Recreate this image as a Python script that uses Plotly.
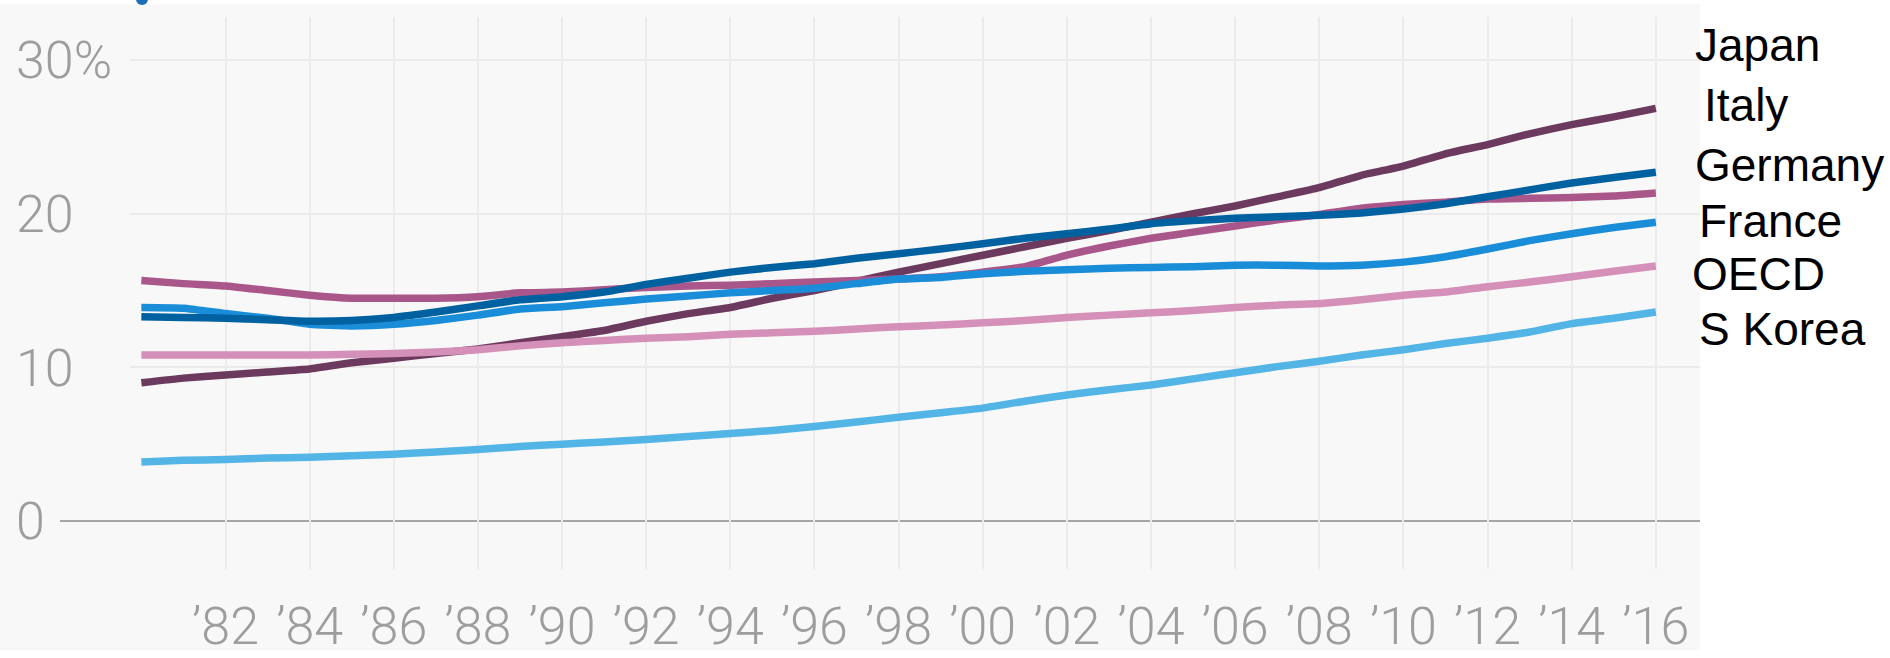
import plotly.graph_objects as go

years = list(range(1980, 2017))

japan = [9.0, 9.3, 9.5, 9.7, 9.9, 10.3, 10.6, 10.9, 11.2, 11.6, 12.0, 12.4, 13.0, 13.5, 13.9, 14.5,
         15.0, 15.6, 16.2, 16.75, 17.3, 17.85, 18.4, 18.9, 19.45, 20.0, 20.5, 21.1, 21.7, 22.5,
         23.1, 23.9, 24.5, 25.2, 25.8, 26.3, 26.85]
italy = [13.3, 13.25, 13.2, 13.1, 13.0, 13.05, 13.25, 13.6, 14.0, 14.4, 14.6, 14.9, 15.4, 15.8, 16.2, 16.5,
         16.75, 17.1, 17.4, 17.7, 18.05, 18.4, 18.7, 19.0, 19.35, 19.55, 19.7, 19.8, 19.9, 20.05,
         20.3, 20.65, 21.1, 21.55, 22.0, 22.35, 22.7]
germany = [15.65, 15.45, 15.3, 15.0, 14.7, 14.5, 14.5, 14.5, 14.6, 14.85, 14.9, 15.05, 15.2, 15.3, 15.35, 15.45,
           15.55, 15.65, 15.75, 15.9, 16.2, 16.55, 17.3, 17.9, 18.4, 18.8, 19.2, 19.6, 19.95, 20.35,
           20.6, 20.75, 20.95, 21.0, 21.05, 21.15, 21.35]
france = [13.9, 13.85, 13.5, 13.2, 12.8, 12.7, 12.8, 13.05, 13.4, 13.8, 13.95, 14.2, 14.45, 14.65, 14.85, 15.0,
          15.15, 15.45, 15.75, 15.85, 16.1, 16.25, 16.35, 16.45, 16.5, 16.55, 16.65, 16.65, 16.6, 16.65,
          16.85, 17.2, 17.7, 18.25, 18.7, 19.1, 19.45]
oecd = [10.8, 10.8, 10.8, 10.8, 10.8, 10.85, 10.9, 11.0, 11.15, 11.4, 11.6, 11.75, 11.9, 12.0, 12.15, 12.25,
        12.35, 12.5, 12.65, 12.75, 12.9, 13.05, 13.25, 13.4, 13.55, 13.7, 13.9, 14.05, 14.15, 14.4,
        14.7, 14.9, 15.25, 15.55, 15.9, 16.25, 16.6]
s_korea = [3.85, 3.95, 4.0, 4.1, 4.15, 4.25, 4.35, 4.5, 4.65, 4.85, 5.0, 5.15, 5.3, 5.5, 5.7, 5.9,
           6.15, 6.45, 6.75, 7.05, 7.35, 7.8, 8.2, 8.55, 8.85, 9.25, 9.65, 10.05, 10.4, 10.8,
           11.15, 11.55, 11.9, 12.3, 12.85, 13.2, 13.6]

label_names = ["Japan", "Italy", "Germany", "France", "OECD", "S Korea"]

x_tickvals = list(range(1982, 2017, 2))
x_ticktext = ["\u2019" + str(y)[2:] for y in x_tickvals]
y_tickvals = [0, 10, 20, 30]
y_ticktext = ["0", "10", "20", "30%"]

# draw order (bottom to top)
series = [
    ("Japan", japan, "#6d3a5f"),
    ("Germany", germany, "#a9578a"),
    ("OECD", oecd, "#d490b8"),
    ("S Korea", s_korea, "#53b4e6"),
    ("France", france, "#1a8dd9"),
    ("Italy", italy, "#0061a0"),
]

fig = go.Figure()
for name, vals, color in series:
    fig.add_trace(go.Scatter(x=years, y=vals, name=name, mode="lines",
                             line=dict(color=color, width=7.5, shape="spline", smoothing=0.4),
                             showlegend=False, hoverinfo="skip"))

# empty helper trace so the left-aligned label axis is drawn
fig.add_trace(go.Scatter(x=[None], y=[None], yaxis="y2", mode="lines",
                         showlegend=False, hoverinfo="skip"))

W, H = 1890, 658
ml, mr, mt, mb = 12, 190, 17, 89
pw = W - ml - mr
ph = H - mt - mb

def px_x(p):
    return (p - ml) / pw

def px_y(p):
    return (H - mb - p) / ph

tick_font = dict(family="Roboto", size=52, color="#9d9d9d", weight=300)

fig.update_layout(
    width=W, height=H,
    margin=dict(l=ml, r=mr, t=mt, b=mb),
    paper_bgcolor="white",
    plot_bgcolor="rgba(0,0,0,0)",
    xaxis=dict(domain=[px_x(130), 1], range=[1979.73, 2017.05], automargin=False,
               tickvals=x_tickvals, ticktext=x_ticktext, tickfont=tick_font,
               showgrid=True, gridcolor="#ebebeb", gridwidth=2, zeroline=False,
               showline=False, ticks="", ticklabelstandoff=22),
    yaxis=dict(range=[-3.12, 32.8], tickvals=[10, 20, 30], showticklabels=False, automargin=False,
               showgrid=True, gridcolor="#ebebeb", gridwidth=2, zeroline=False, showline=False),
    yaxis2=dict(overlaying="y", anchor="free", position=0, side="left", automargin=False,
                range=[-3.12, 32.8], tickvals=y_tickvals, ticktext=y_ticktext,
                ticklabelposition="inside", tickfont=tick_font, showgrid=False,
                zeroline=False, showline=False, ticks=""),
    shapes=[
        dict(type="rect", xref="paper", yref="paper", x0=px_x(0), x1=px_x(1700),
             y0=px_y(650), y1=px_y(4), fillcolor="#f8f8f8", line=dict(width=0), layer="below"),
        dict(type="line", xref="paper", yref="y", x0=px_x(60), x1=px_x(1700), y0=0, y1=0,
             line=dict(color="#a6a6a6", width=2), layer="below"),
        dict(type="circle", xref="paper", yref="paper", x0=px_x(136), x1=px_x(148),
             y0=px_y(5), y1=px_y(-7), fillcolor="#1a6fb8", line=dict(width=0)),
    ],
)

label_pos = [(1693, 45), (1702, 105), (1693, 165), (1697, 221), (1690, 274), (1697, 329)]
for name, (lx, ly) in zip(label_names, label_pos):
    fig.add_annotation(text=name, xref="paper", yref="paper", x=px_x(lx), y=px_y(ly),
                       xanchor="left", yanchor="middle", showarrow=False,
                       font=dict(family="Liberation Sans, Arial", size=46, color="black"))

fig.write_html("out.html", config={"displayModeBar": False},
               post_script="document.body.style.margin='0';")
